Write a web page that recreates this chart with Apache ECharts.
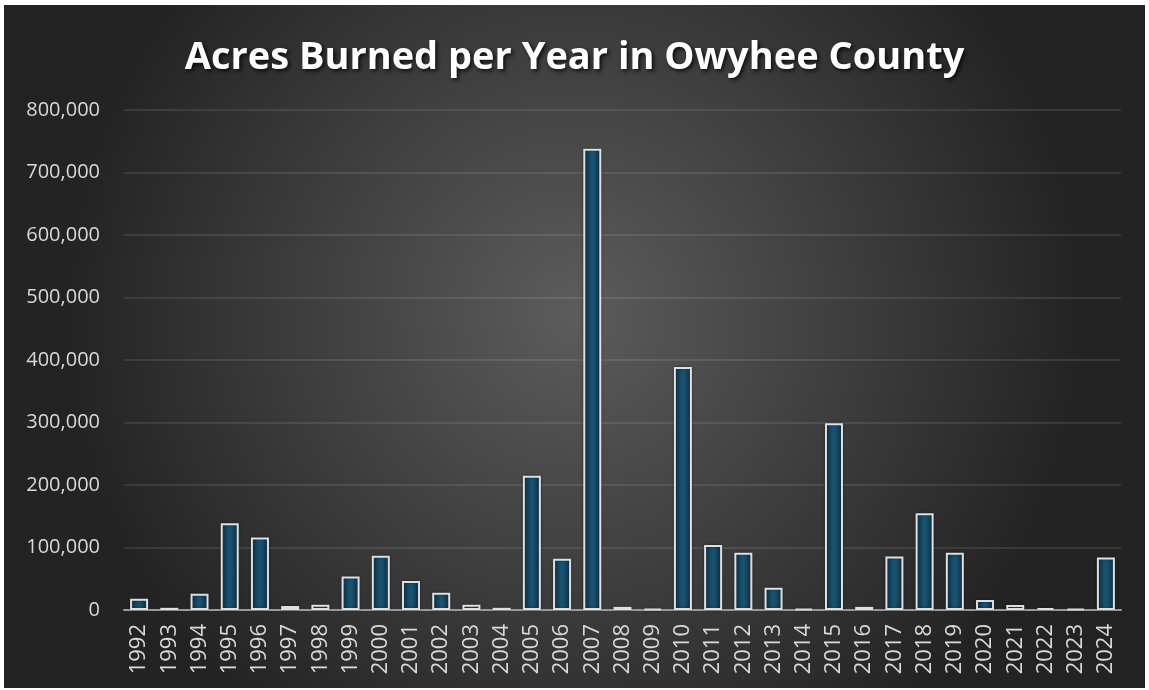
<!DOCTYPE html>
<html>
<head>
<meta charset="utf-8">
<script src="https://cdn.jsdelivr.net/npm/echarts@6/dist/echarts.min.js"></script>
<style>
html,body{margin:0;padding:0;background:#ffffff;}
#chart{width:1149px;height:690px;}
</style>
</head>
<body>
<div id="chart"></div>
<script>
const titleText = 'Acres Burned per Year in Owyhee County';
const years = ['1992','1993','1994','1995','1996','1997','1998','1999','2000','2001','2002','2003','2004','2005','2006','2007','2008','2009','2010','2011','2012','2013','2014','2015','2016','2017','2018','2019','2020','2021','2022','2023','2024'];
const acres = [18000,3500,26000,139000,116000,6500,8500,53500,87000,46500,27500,8500,3500,215000,82000,738000,5000,2000,389000,104000,91500,35500,2000,299000,5000,85500,155000,91500,16000,8000,3000,2000,84000];
const yTicks = [0,100000,200000,300000,400000,500000,600000,700000,800000];

const chart = echarts.init(document.getElementById('chart'));
const option = {
  backgroundColor: '#ffffff',
  animation: false,
  graphic: [{
    type: 'rect', z: -10, silent: true,
    shape: {x: 4, y: 5, width: 1141, height: 683},
    style: {
      fill: new echarts.graphic.RadialGradient(0.5, 0.45, 0.75, [
        {offset: 0, color: '#5c5c5c'},
        {offset: 1, color: '#232323'}
      ])
    }
  }],
  title: {
    text: titleText,
    left: 'center',
    top: 34,
    textStyle: {
      color: '#ffffff',
      fontFamily: 'Open Sans',
      fontWeight: 'bold',
      fontSize: 38,
      textShadowColor: 'rgba(0,0,0,0.8)',
      textShadowBlur: 4,
      textShadowOffsetX: 2,
      textShadowOffsetY: 2
    }
  },
  grid: {left: 124, right: 28, top: 110, bottom: 80, containLabel: false},
  xAxis: {
    type: 'category',
    data: years,
    axisLine: {show: true, lineStyle: {color: '#9a9a9a', width: 2}},
    axisTick: {show: false},
    axisLabel: {
      rotate: 90, color: '#d9d9d9', fontFamily: 'Open Sans', fontSize: 22, margin: 14, interval: 0
    }
  },
  yAxis: {
    type: 'value',
    min: yTicks[0], max: yTicks[yTicks.length - 1], interval: 100000,
    axisLine: {show: false},
    axisTick: {show: false},
    splitLine: {lineStyle: {color: 'rgba(255,255,255,0.13)', width: 1.5}},
    axisLabel: {
      color: '#d9d9d9', fontFamily: 'Open Sans', fontSize: 20, margin: 24,
      formatter: v => v.toLocaleString('en-US')
    }
  },
  series: [{
    type: 'bar',
    data: acres,
    barWidth: 18,
    itemStyle: {
      color: new echarts.graphic.LinearGradient(0, 0, 1, 0, [
        {offset: 0, color: '#0c2e44'},
        {offset: 0.5, color: '#1a5574'},
        {offset: 1, color: '#0c2e44'}
      ]),
      borderColor: '#e0e0e0',
      borderWidth: 2,
      shadowColor: 'rgba(0,0,0,0.4)',
      shadowBlur: 3
    }
  }]
};
chart.setOption(option);
</script>
</body>
</html>
